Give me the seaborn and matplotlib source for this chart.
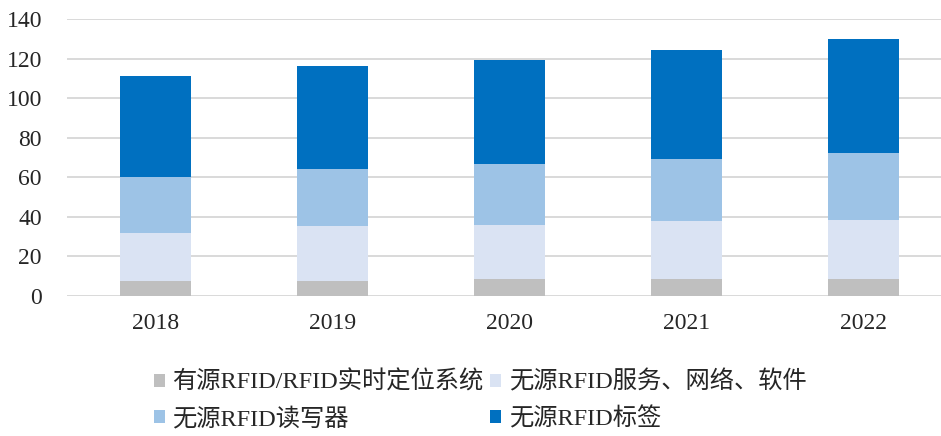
import numpy as np
import pandas as pd
import matplotlib
matplotlib.use("Agg")
import matplotlib.pyplot as plt
from matplotlib.patches import Patch
import seaborn as sns

years = ["2018", "2019", "2020", "2021", "2022"]
active_rtls = [7.6, 7.6, 8.4, 8.4, 8.4]
passive_services = [24.2, 27.8, 27.5, 29.6, 30.0]
passive_readers = [28.2, 28.9, 30.8, 31.2, 34.0]
passive_tags = [51.1, 51.9, 52.8, 55.4, 57.7]

series_names = ["有源RFID/RFID实时定位系统", "无源RFID服务、网络、软件",
                "无源RFID读写器", "无源RFID标签"]
series_values = [active_rtls, passive_services, passive_readers, passive_tags]
colors = ["#BFBFBF", "#DAE3F3", "#9DC3E6", "#0070C0"]

sns.set_theme(style="white")
plt.rcParams["font.family"] = ["Liberation Serif", "Noto Sans CJK SC"]

fig = plt.figure(figsize=(9.41, 4.36), dpi=100)
ax = fig.add_axes([0.0712, 0.321, 0.9288, 0.635])

# stacked bars: draw cumulative totals from the top layer down
cum = np.cumsum(np.array(series_values), axis=0)
for i in range(len(series_names) - 1, -1, -1):
    df = pd.DataFrame({"year": years, "value": cum[i]})
    sns.barplot(data=df, x="year", y="value", color=colors[i], width=0.4,
                saturation=1, ax=ax, zorder=3, linewidth=0)

ax.set_ylim(0, 140)
ax.set_yticks(np.arange(0, 141, 20))
ax.set_xlim(-0.5, 4.44)
ax.yaxis.grid(True, color="#D9D9D9", linewidth=1.4, zorder=0)
ax.set_axisbelow(True)
for s in ax.spines.values():
    s.set_visible(False)
ax.set_xlabel("")
ax.set_ylabel("")
ax.tick_params(axis="y", length=0, pad=18, labelsize=17, labelcolor="#262626")
ax.tick_params(axis="x", length=0, pad=12, labelsize=17, labelcolor="#262626")

# legend laid out in rows: column-wise fill order
order = [0, 2, 1, 3]
handles = [Patch(facecolor=colors[k], edgecolor="none") for k in order]
labels = [series_names[k] for k in order]
fig.legend(handles, labels, loc="upper left", bbox_to_anchor=(0.14, 0.2),
           ncol=2, frameon=False, fontsize=17.5, handlelength=0.45, handleheight=0.45,
           handletextpad=0.3, columnspacing=0.3, labelspacing=0.55,
           labelcolor="#262626")

fig.savefig("out.png", dpi=100)
